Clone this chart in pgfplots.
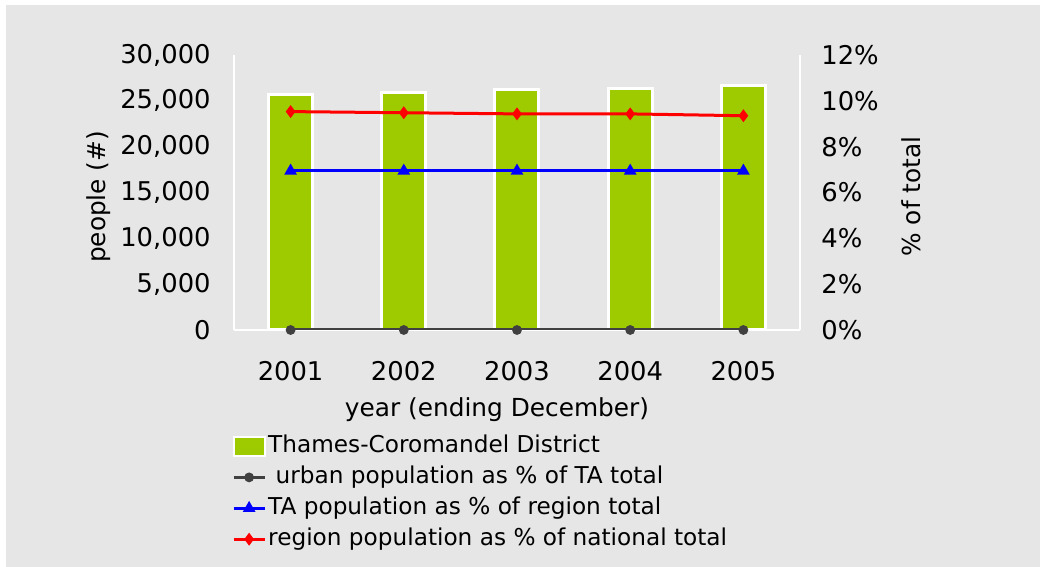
\documentclass[border=0pt]{standalone}
\usepackage{fontspec}
\setmainfont{DejaVu Sans}
\usepackage{pgfplots}
\pgfplotsset{compat=1.18}
\definecolor{bggray}{RGB}{230,230,230}
\definecolor{bargreen}{RGB}{158,203,0}
\definecolor{darkline}{RGB}{64,64,64}
\begin{document}
\begin{tikzpicture}[x=1pt,y=1pt]
\fill[white] (0,0) rectangle (520,283.5);
\fill[bggray] (3,0) rectangle (520,281);
\begin{axis}[
  at={(117pt,118.5pt)}, anchor=south west,
  scale only axis, width=283pt, height=137.5pt,
  xmin=-0.5, xmax=4.5, ymin=0, ymax=30000,
  axis x line*=bottom, axis y line*=left,
  axis line style={-, white, line width=1.25pt},
  xtick={0,1,2,3,4}, xticklabels={2001,2002,2003,2004,2005},
  ytick={0,5000,10000,15000,20000,25000,30000},
  scaled y ticks=false,
  major tick length=0pt,
  /pgf/number format/assume math mode=true,
  /pgf/number format/1000 sep={,},
  tick label style={font=\fontsize{12.9}{15}\selectfont},
  yticklabel style={anchor=east, inner sep=0pt, xshift=-11.5pt},
  xticklabel style={anchor=north, inner sep=0pt, yshift=-15.3pt},
  ylabel={people (\#)},
  every axis y label/.style={at={(axis description cs:-0.2394,0.484)}, rotate=90, anchor=center, font=\fontsize{12.4}{15}\selectfont},
  xlabel={year (ending December)},
  every axis x label/.style={at={(axis description cs:0.4647,0)}, anchor=base, yshift=-43.5pt, font=\fontsize{12.4}{15}\selectfont},
  ybar, bar width=22pt,
]
\addplot[fill=bargreen, draw=white, line width=1.5pt] coordinates {(0,25660) (1,25910) (2,26200) (3,26380) (4,26640)};
\end{axis}
\begin{axis}[
  at={(117pt,118.5pt)}, anchor=south west,
  scale only axis, width=283pt, height=137.5pt,
  xmin=-0.5, xmax=4.5, ymin=0, ymax=12,
  axis x line=none, axis y line*=right,
  axis line style={-, white, line width=1.25pt},
  ytick={0,2,4,6,8,10,12},
  yticklabel={\pgfmathprintnumber{\tick}\%},
  major tick length=0pt,
  /pgf/number format/assume math mode=true,
  tick label style={font=\fontsize{12.9}{15}\selectfont},
  yticklabel style={anchor=west, inner sep=0pt, xshift=10.5pt},
  ylabel={\% of total},
  every axis y label/.style={at={(axis description cs:1.197,0.485)}, rotate=90, anchor=center, font=\fontsize{12.4}{15}\selectfont},
  legend image code/.code={\draw[mark repeat=2,mark phase=2,#1] plot coordinates {(0pt,0pt) (7.75pt,0pt) (15.5pt,0pt)};},
  legend cell align=left,
  legend style={at={(-0.0035,-0.3727)}, anchor=north west, draw=none, fill=none, inner sep=0pt, outer sep=0pt,
    font=\fontsize{11.6}{14}\selectfont, row sep=1.45pt,
    nodes={inner sep=1pt, text height=9pt, text depth=3pt},
    /tikz/every even column/.append style={column sep=0pt}},
]
\addlegendimage{legend image code/.code={\draw[fill=bargreen, draw=white, line width=1pt] (0pt,-4.75pt) rectangle (15.5pt,4.75pt);}}
\addlegendentry{Thames-Coromandel District}
\addplot[darkline, line width=1.6pt, mark=*, mark size=1.6pt] coordinates {(0,0) (1,0) (2,0) (3,0) (4,0)};
\addlegendentry{\ urban population as \% of TA total}
\addplot[blue, line width=1.5pt, mark=triangle*, mark size=2.2pt] coordinates {(0,6.94) (1,6.94) (2,6.94) (3,6.94) (4,6.94)};
\addlegendentry{TA population as \% of region total}
\addplot[red, line width=1.5pt, mark=diamond*, mark size=2pt] coordinates {(0,9.53) (1,9.48) (2,9.43) (3,9.43) (4,9.35)};
\addlegendentry{region population as \% of national total}
\end{axis}
\end{tikzpicture}
\end{document}
